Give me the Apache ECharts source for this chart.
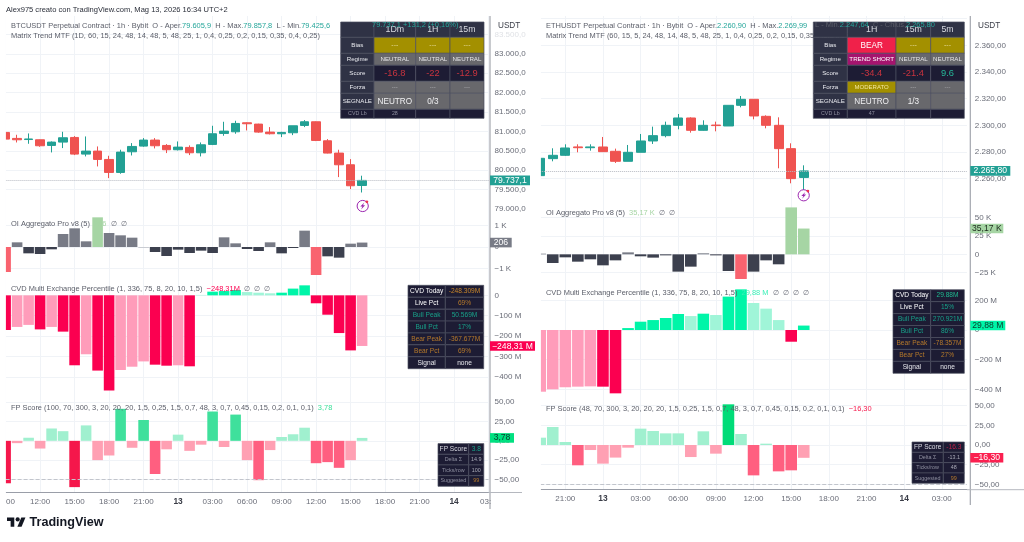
<!DOCTYPE html>
<html><head><meta charset="utf-8">
<style>html,body{margin:0;padding:0;background:#fff}#c{width:1024px;height:542px}</style>
<script src="https://cdn.jsdelivr.net/npm/echarts@6/dist/echarts.min.js"></script>
</head><body><div id="c"></div>
<script>
// ---------- categories / tick labels ----------
const btcHours = ['09:00','10:00','11:00','12:00','13:00','14:00','15:00','16:00','17:00','18:00','19:00','20:00','21:00','22:00','23:00','13','01:00','02:00','03:00','04:00','05:00','06:00','07:00','08:00','09:00b','10:00b','11:00b','12:00b','13:00b','14:00b','15:00b','16:00b','17:00b','18:00b','19:00b','20:00b','21:00b','22:00b','23:00b','14','01:00b','02:00b','03:00b'];
const ethHours = ['19:00','20:00','21:00','22:00','23:00','13','01:00','02:00','03:00','04:00','05:00','06:00','07:00','08:00','09:00','10:00','11:00','12:00','13:00','14:00','15:00','16:00','17:00','18:00','19:00b','20:00b','21:00b','22:00b','23:00b','14','01:00b','02:00b','03:00b','04:00b','05:00b'];
const btcTicks = ['09:00','12:00','15:00','18:00','21:00','13','03:00','06:00','09:00b','12:00b','15:00b','18:00b','21:00b','14','03:00b'];
const ethTicks = ['21:00','13','03:00','06:00','09:00','12:00','15:00','18:00','21:00b','14','03:00b'];

// ---------- candles: open, close, low, high ----------
const btcCandles = [[80973,80801,80801,80990],[80819,80784,80715,80913],[80790,80805,80681,80947],[80784,80630,80604,80790],[80638,80724,80458,80741],[80724,80836,80570,80990],[80844,80415,80389,80879],[80415,80492,80355,80870],[80492,80277,80097,80612],[80277,79942,79796,80372],[79942,80466,79908,80527],[80475,80612,80380,80698],[80621,80776,80604,80827],[80776,80630,80561,80827],[80638,80527,80441,80672],[80527,80595,80509,80741],[80587,80449,80389,80640],[80449,80655,80355,80715],[80664,80939,80647,81145],[80947,81007,80887,81248],[80990,81205,80939,81274],[81222,81197,81025,81231],[81188,80982,80965,81197],[80982,80939,80922,81111],[80939,80973,80853,80990],[80965,81145,80904,81145],[81153,81248,81111,81291],[81248,80767,80750,81257],[80758,80441,80432,80801],[80441,80140,79822,80527],[80140,79599,79513,80286],[79605.9,79737.1,79425.6,79857.8]];
const ethCandles = [[2262.25,2275.25,2262,2276],[2275,2277.5,2273,2282.75],[2277.5,2283,2277,2285.75],[2283.8,2283.2,2279.75,2285.75],[2283.2,2283.8,2281,2285.75],[2283.75,2280.25,2280.25,2291.25],[2280.5,2273,2271.75,2282.5],[2273,2279.75,2273,2285.25],[2279.75,2288.25,2279.75,2293.5],[2288.25,2292.25,2286,2299],[2292.25,2300,2291,2302.75],[2300,2305.5,2297,2308.5],[2305.5,2296.25,2294.5,2306],[2296.25,2300,2296,2303.75],[2300.2,2299.8,2295.5,2302.75],[2299.5,2315,2299.5,2315],[2315,2319.5,2313.5,2322],[2319.5,2307,2304.5,2319.5],[2306.75,2300,2297.75,2307.5],[2300,2282.5,2267.75,2306],[2282.5,2260,2256.5,2286.5],[2260.9,2265.8,2247.64,2269.99]];

// ---------- indicators ----------
const btcOI = [-1163,217,-295,-325,-108,605,868,264,1380,651,543,434,-10,-233,-419,-124,-279,-170,-279,450,170,-93,-186,217,-295,-46,760,-1302,-434,-496,155,206];
const btcOIShade = 'r u n n n u u u g u u u n n n n n n n u u n n u n n u r n n u u'.split(' ');
const btcCVD = [-170,-155,-145,-167,-155,-178,-343,-289,-369,-467,-366,-350,-324,-340,-345,-343,-348,2,18,21,26,16,13,10,13,33,49,-39,-95,-185,-270,-248.31];
const btcCVDShade = 'P p p P p P P p P P p p p P P p P g G G G g g g G G G P P P P p'.split(' ');
const btcFP = [-55,-3,4,-10,16,12.5,-60,20,-25,-19,41.5,-9,27,-43,-11,8,-13,-5,38,-8,34,-25,-51,-12,5,8.5,17,-29,-27.6,-35,-25,3.78];
const btcFPShade = 'R p g p g g R g p p G p G M p g p p G p G p M p g g g M M M p g'.split(' ');
const ethOI = [900,-11800,-4100,-10000,-6800,-15000,-8200,2700,-2700,-4500,-1400,-23600,-16800,1400,-1400,-22700,-33600,-23600,-8200,-13600,64000,35170];
const ethOIShade = 'u n n n n n n u n n n n n u n n r n n n g g'.split(' ');
const ethCVD = [-416,-400,-386,-382,-380,-382,-427,13,56,67,81,108,94,110,101,225,274,182,144,67,-79,29.88];
const ethCVDShade = 'p p p p p P P G G G G G g G g G G g g g P G'.split(' ');
const ethFP = [9.3,22.9,3.8,-25.8,-6.4,-23.7,-16,-3.4,20.8,17.8,14.8,14.8,-15.3,17.4,-11,51.7,14,-38.6,1.7,-33.5,-32.2,-16.3];
const ethFPShade = 'g g g M p p p p g g g g p g p S g M g M M p'.split(' ');

// ---------- tables ----------
const btcMatrix = [['','1Dm','1H','15m'],['Bias','---','---','---'],['Regime','NEUTRAL','NEUTRAL','NEUTRAL'],['Score','-16.8','-22','-12.9'],['Forza','---','---','---'],['SEGNALE','NEUTRO','0/3',''],['CVD Lb','28','','']];
const ethMatrix = [['','1H','15m','5m'],['Bias','BEAR','---','---'],['Regime','TREND SHORT','NEUTRAL','NEUTRAL'],['Score','-34.4','-21.4','9.6'],['Forza','MODERATO','---','---'],['SEGNALE','NEUTRO','1/3',''],['CVD Lb','47','','']];
const cvdRowLabels = ['CVD Today','Live Pct','Bull Peak','Bull Pct','Bear Peak','Bear Pct','Signal'];
const btcCvdValues = ['-248.309M','69%','50.569M','17%','-367.677M','69%','none'];
const ethCvdValues = ['29.88M','15%','270.921M','86%','-78.357M','27%','none'];
const fpRowLabels = ['FP Score','Delta Σ','Ticks/row','Suggested'];
const btcFpValues = ['3.8','14.9','100','99'];
const ethFpValues = ['-16.3','-13.1','48','99'];

// ---------- palette ----------
const FONT = '"Liberation Sans", Arial, sans-serif';
const UP = '#22a094', DOWN = '#ef5350', GRID = '#f0f3f7', LBL = '#6a6d78';
const OI_C = {n:'#3c404e',u:'#787b86',g:'#a6d5a4',r:'#f9636f'};
const CVD_C = {P:'#fb0050',p:'#ff9cba',G:'#00f5a8',g:'#a0f5d8'};
const FP_C = {R:'#f5174b',M:'#ff5f80',p:'#ffa0b3',G:'#3fe09c',g:'#a0f0cf',S:'#00dc78'};

const shaded = (vals, shades, pal) => vals.map((v,i)=>({value:v,itemStyle:{color:pal[shades[i]]}}));
const grp = (n,d) => { const s=Math.abs(n).toFixed(d).split('.'); const a=s[0].replace(/\B(?=(\d{3})+$)/g,'.'); return (n<0?'−':'')+a+(d?','+s[1]:''); };

const GEO = {
  L:{left:5.6,width:483,line:490,off:1.4},
  R:{left:540.2,width:426.7,line:970.3,off:3.4}
};
const grids = [
 {...GEO.L,top:16,height:476.5},{...GEO.L,top:16,height:193},{...GEO.L,top:214.75,height:75.25},{...GEO.L,top:278,height:119.3},{...GEO.L,top:395.3,height:103.4},
 {...GEO.R,top:16,height:473.7},{...GEO.R,top:16,height:189.3},{...GEO.R,top:205.2,height:85.8},{...GEO.R,top:285.5,height:133.5},{...GEO.R,top:397.8,height:106.2}
].map(g=>({left:g.left,width:g.width,top:g.top,height:g.height,containLabel:false}));

const AX = 8;
function mkX(idx,cats,ticks,visible){
  const ok=(i,v)=>ticks.includes(v);
  const skipFirst = cats===btcHours;
  return {type:'category',gridIndex:idx,data:cats,boundaryGap:false,show:visible,
    axisTick:{show:false},
    axisLine:{show:visible,lineStyle:{color:'#9a9ea8',width:1}},
    splitLine:{show:visible,interval:ok,lineStyle:{color:GRID,width:1}},
    axisLabel:{show:visible,color:LBL,fontSize:AX,fontFamily:FONT,margin:5,hideOverlap:false,
      interval:(i,v)=>ok(i,v)&&!(skipFirst&&(i===0||i===42)),
      formatter:v=>{const t=v.replace('b','');return t.length<3?'{d|'+t+'}':t;},
      rich:{d:{fontWeight:700,color:'#3a3d47',fontSize:8.4,fontFamily:FONT}}}};
}
function mkY(idx,min,max,interval,fmt,off,faded){
  return {type:'value',gridIndex:idx,position:'right',offset:off,min,max,interval,scale:true,
    axisLine:{show:false},axisTick:{show:false},
    axisLabel:{color:faded?(v=>Number(v)===faded?'#e0e2e6':LBL):LBL,fontSize:AX,fontFamily:FONT,margin:4.5,formatter:fmt},
    splitLine:{show:true,showMinLine:false,showMaxLine:false,lineStyle:{color:GRID,width:1}}};
}
const base = i=>({type:'value',gridIndex:i,min:0,max:1,show:false,splitLine:{show:false}});
const only = (test,f)=>v=>test(v)?f(v):'';

const xAxes=[mkX(0,btcHours,btcTicks,true)];
for(let i=1;i<5;i++)xAxes.push(mkX(i,btcHours,btcTicks,false));
xAxes.push(mkX(5,ethHours,ethTicks,true));
for(let i=6;i<10;i++)xAxes.push(mkX(i,ethHours,ethTicks,false));

const yAxes=[
 base(0),
 mkY(1,79000,83974,500,only(v=>v%500===0,v=>grp(v,1)),GEO.L.off,83500),
 mkY(2,-2000,1500,1000,only(v=>v%1000===0&&v>-2000,v=>v===0?'0':(v<0?'−':'')+Math.abs(v/1000)+' K'),GEO.L.off),
 mkY(3,-500,85,100,only(v=>v%100===0&&v>-500,v=>v===0?'0':(v<0?'−':'')+Math.abs(v)+' M'),GEO.L.off),
 mkY(4,-75,59,25,only(v=>v%25===0&&v>-75,v=>(v<0?'−':'')+Math.abs(v).toFixed(2).replace('.',',')),GEO.L.off),
 base(5),
 mkY(6,2240,2382,20,only(v=>v%20===0&&v>2240&&v<2380,v=>grp(v,2)),GEO.R.off),
 mkY(7,-50000,67000,25000,only(v=>v%25000===0&&v>-50000,v=>v===0?'0':(v<0?'−':'')+Math.abs(v/1000)+' K'),GEO.R.off),
 mkY(8,-600,300,200,only(v=>v%200===0&&v>-600&&v<300,v=>v===0?'0':(v<0?'−':'')+Math.abs(v)+' M'),GEO.R.off),
 mkY(9,-75,60,25,only(v=>v%25===0&&v>-75,v=>(v<0?'−':'')+Math.abs(v).toFixed(2).replace('.',',')),GEO.R.off)
];

const candle=(idx,data,last,w)=>({type:'candlestick',xAxisIndex:idx,yAxisIndex:idx,data,barWidth:w,
  itemStyle:{color:UP,color0:DOWN,borderColor:UP,borderColor0:DOWN,borderWidth:1},
  markLine:{silent:true,symbol:'none',label:{show:false},lineStyle:{color:'#b7bac2',type:'dotted',width:1},data:[{yAxis:last}]}});
const bars=(idx,data,w,extra)=>Object.assign({type:'bar',xAxisIndex:idx,yAxisIndex:idx,data,barWidth:w},extra||{});
const dash50={markLine:{silent:true,symbol:'none',label:{show:false},lineStyle:{color:'#c2c5cc',type:'dashed',width:1},data:[{yAxis:-50}]}};

const series=[
 candle(1,btcCandles,79737.1,8.8),
 bars(2,shaded(btcOI,btcOIShade,OI_C),10.6),
 bars(3,shaded(btcCVD,btcCVDShade,CVD_C),10.6),
 bars(4,shaded(btcFP,btcFPShade,FP_C),10.6,dash50),
 candle(6,ethCandles,2265.8,9.6),
 bars(7,shaded(ethOI,ethOIShade,OI_C),11.6),
 bars(8,shaded(ethCVD,ethCVDShade,CVD_C),11.6),
 bars(9,shaded(ethFP,ethFPShade,FP_C),11.6,dash50)
];

const chart=echarts.init(document.getElementById('c'),null,{renderer:'canvas'});
chart.setOption({animation:false,backgroundColor:'#fff',grid:grids,xAxis:xAxes,yAxis:yAxes,series});

// ---------- decorations ----------
const G=[];
const Z=50;
function rect(x,y,w,h,fill,stroke,z){G.push({type:'rect',z:z||Z,silent:true,shape:{x,y,width:w,height:h},style:{fill,stroke:stroke||null,lineWidth:stroke?0.7:0}});}
function line(x1,y1,x2,y2,c,w,z){G.push({type:'line',z:z||Z,silent:true,shape:{x1,y1,x2,y2},style:{stroke:c,lineWidth:w||1}});}
function text(x,y,t,fill,size,opt){opt=opt||{};G.push({type:'text',z:opt.z||Z+2,silent:true,x,y,style:{text:t,fill,font:(opt.w||400)+' '+size+'px '+FONT,align:opt.a||'left',textAlign:opt.a||'left',verticalAlign:'middle',textVerticalAlign:'middle'}});}
function rich(x,y,parts,size,z){
  const r={};let s='';
  parts.forEach((p,i)=>{r['k'+i]={fill:p[1],color:p[1],fontSize:size,fontFamily:FONT};s+='{k'+i+'|'+p[0]+'}';});
  G.push({type:'text',z:z||Z+2,silent:true,x,y,style:{text:s,rich:r,font:size+'px '+FONT,verticalAlign:'middle',textVerticalAlign:'middle'}});
}

const T='#26a69a',GT='#5b5e69',TS=7.45;
// white masks: the two charts cut their first bars at the pane edge
rect(0,14,5.9,484,'#fff',null,10);
rect(533.5,14,7.4,480,'#fff',null,10);
// axis lines
line(GEO.L.line,16,GEO.L.line,509,'#a3a6ae',1.2,40);
line(GEO.R.line,16,GEO.R.line,505,'#a3a6ae',1.2,40);
line(488.6,492.5,522,492.5,'#b5b8bf',1,40);
line(966.9,489.7,1024,489.7,'#b5b8bf',1,40);
// clipped tick labels on left chart
text(6,501.4,'00',LBL,AX);
text(480,501.4,'03:',LBL,AX);

// header & legends
text(6,10,'Alex975 creato con TradingView.com, Mag 13, 2026 16:34 UTC+2','#2a2e39',7.55);
rich(11,26,[['BTCUSDT Perpetual Contract · 1h · Bybit  O - Aper.',GT],['79.605,9',T],['  H - Max.',GT],['79.857,8',T],['  L - Min.',GT],['79.425,6',T]],TS,45);
text(11,35.7,'Matrix Trend MTF (1D, 60, 15, 24, 48, 14, 48, 5, 48, 25, 1, 0,4, 0,25, 0,2, 0,15, 0,35, 0,4, 0,25)',GT,TS,{z:45});
rich(11,223.7,[['OI Aggregato Pro v8 (5)  ',GT],['206','#a6d5a4'],['  ∅  ∅','#6a6d78']],TS);
rich(11,289,[['CVD Multi Exchange Percentile (1, 336, 75, 8, 20, 10, 1,5)  ',GT],['−248,31M','#fb0050'],['  ∅  ∅  ∅','#6a6d78']],TS);
rich(11,407.7,[['FP Score (100, 70, 300, 3, 20, 20, 20, 1,5, 0,25, 1,5, 0,7, 48, 3, 0,7, 0,45, 0,15, 0,2, 0,1, 0,1)  ',GT],['3,78','#3fe09c']],TS);
rich(546,26,[['ETHUSDT Perpetual Contract · 1h · Bybit  O - Aper.',GT],['2.260,90',T],['  H - Max.',GT],['2.269,99',T]],TS,45);
text(546,35.7,'Matrix Trend MTF (60, 15, 5, 24, 48, 14, 48, 5, 48, 25, 1, 0,4, 0,25, 0,2, 0,15, 0,35, 0,4, 0,25)',GT,TS,{z:45});
rich(546,213,[['OI Aggregato Pro v8 (5)  ',GT],['35,17 K','#a6d5a4'],['  ∅  ∅','#6a6d78']],TS);
rich(546,293,[['CVD Multi Exchange Percentile (1, 336, 75, 8, 20, 10, 1,5)  ',GT],['29,88 M','#3cf0b8'],['  ∅  ∅  ∅  ∅','#6a6d78']],TS);
rich(546,409.3,[['FP Score (48, 70, 300, 3, 20, 20, 20, 1,5, 0,25, 1,5, 0,7, 48, 3, 0,7, 0,45, 0,15, 0,2, 0,1, 0,1)  ',GT],['−16,30','#f5174b']],TS);
text(498,26,'USDT','#3a3d47',8.2);
text(978,26,'USDT','#3a3d47',8.2);

// matrix tables
const C_HEAD='#2f3245',C_DARK='#1d1c34',C_OLIVE='#a39000',C_GRAY='#68686c',EDGE='#4c4f60';
function matrix(xs,rows){
  const ys=[22,37.3,53.3,65.3,81.3,93.3,109.3,118.3];
  rows.forEach((row,r)=>row.forEach((t,c)=>{
    const x=xs[c],y=ys[r],w=xs[c+1]-x,h=ys[r+1]-y,cx=x+w/2,cy=y+h/2;
    let fill=C_HEAD,col='#e8e9ee',size=6.2;
    if(c>0){
      if(r===0){fill=C_HEAD;size=8.8;col='#d8dae0';}
      if(r===1){fill=C_OLIVE;col='#e6dc9a';size=7;if(t==='BEAR'){fill='#f0214a';col='#fff';size=8.2;}}
      if(r===2){fill=C_GRAY;col='#e4e4e6';size=6.2;if(t==='TREND SHORT'){fill='#a5146e';col='#fff';}}
      if(r===3){fill=C_DARK;size=9.3;col=t.startsWith('-')?'#c9343f':'#26b89a';}
      if(r===4){fill=C_GRAY;size=6;col='#a9a9ad';if(t==='MODERATO'){fill=C_OLIVE;col='#f2e79e';}}
      if(r===5){fill=C_GRAY;size=8.2;col='#f0f0f2';}
      if(r===6){fill=C_DARK;size=5.3;col='#8f90a0';}
    } else if(r===6){fill=C_DARK;size=5.3;col='#8f90a0';}
    rect(x,y,w,h,fill,EDGE);
    if(t)text(cx,cy,t,col,size,{a:'center'});
  }));
}
matrix([340.7,374,415.7,450,484],btcMatrix);
matrix([813.3,847.3,896,930.7,964.3],ethMatrix);
// price text running over the table header
rich(372,25,[['79.737,1 +131,2 (+0,16%)',T]],TS);
rich(815,25,[['L - Min.','#5b5e69'],['2.247,64',T],['  C - Chius.','#5b5e69'],['2.265,80',T]],TS);

function cvdTable(x,xm,x2,y,y2,vals){
  const rh=(y2-y)/7;
  const tint=['#fff','#fff','#18a088','#18a088','#b5792b','#b5792b','#e6e7ec'];
  const isB=vals===btcCvdValues;
  const vtint=[isB?'#c9872a':'#1fb98f',isB?'#b5792b':'#18a088','#18a088','#18a088','#b5792b','#b5792b','#e6e7ec'];
  cvdRowLabels.forEach((t,i)=>{
    rect(x,y+i*rh,xm-x,rh,C_DARK,EDGE);rect(xm,y+i*rh,x2-xm,rh,C_DARK,EDGE);
    text((x+xm)/2,y+(i+.5)*rh,t,tint[i],6.6,{a:'center'});
    text((xm+x2)/2,y+(i+.5)*rh,vals[i],vtint[i],6.6,{a:'center'});
  });
}
cvdTable(408,445.3,483.7,285.3,368.7,btcCvdValues);
cvdTable(893,930.7,964.3,289.7,373.3,ethCvdValues);

function fpTable(x,xm,x2,y,y2,vals,c0){
  const rh=(y2-y)/4;
  fpRowLabels.forEach((t,i)=>{
    rect(x,y+i*rh,xm-x,rh,C_DARK,EDGE);rect(xm,y+i*rh,x2-xm,rh,C_DARK,EDGE);
    text((x+xm)/2,y+(i+.5)*rh,t,i===0?'#d9dae2':'#8f90a0',i===0?6.6:5.4,{a:'center'});
    text((xm+x2)/2,y+(i+.5)*rh,vals[i],i===0?c0:(i===3?'#b5792b':'#a9aab6'),i===0?6.6:5.4,{a:'center'});
  });
}
fpTable(438,468.7,483.8,443.6,486.3,btcFpValues,'#18a088');
fpTable(912,943.3,964.3,442,483.3,ethFpValues,'#c02048');

// purple bolt markers
function bolt(cx,cy){
  G.push({type:'circle',z:Z,silent:true,shape:{cx,cy,r:5.6},style:{fill:'#fff',stroke:'#9c27b0',lineWidth:1}});
  G.push({type:'polygon',z:Z+1,silent:true,shape:{points:[[cx+1.6,cy-3.4],[cx-2.4,cy+0.6],[cx-0.3,cy+0.6],[cx-1.6,cy+3.4],[cx+2.4,cy-0.8],[cx+0.3,cy-0.8]]},style:{fill:'#9c27b0'}});
  G.push({type:'circle',z:Z+1,silent:true,shape:{cx:cx+4.2,cy:cy-4.2,r:1.4},style:{fill:'#ef3350'}});
}
bolt(362.7,206);
bolt(803.7,195.3);

// logo
const lx=p=>7+.52*p, ly=p=>515.3+.52*p;
G.push({type:'polygon',z:Z,silent:true,shape:{points:[[14,22],[7,22],[7,11],[0,11],[0,4],[14,4]].map(p=>[lx(p[0]),ly(p[1])])},style:{fill:'#131722'}});
G.push({type:'polygon',z:Z,silent:true,shape:{points:[[28,22],[20,22],[27.5,4],[35.5,4]].map(p=>[lx(p[0]),ly(p[1])])},style:{fill:'#131722'}});
G.push({type:'circle',z:Z,silent:true,shape:{cx:lx(20.5),cy:ly(8),r:2.1},style:{fill:'#131722'}});
text(29.5,522.5,'TradingView','#131722',12.6,{w:700});

// price tags placed through the axes
const tags=[
 [1,79737.1,'79.737,1',UP,'#fff',490,40],
 [2,206,'206','#787b86','#fff',490,21.7],
 [3,-248.31,'−248,31 M','#fb0050','#fff',490,45],
 [4,3.78,'3,78','#00e080','#0b3b2c',490,24],
 [6,2265.8,'2.265,80',UP,'#fff',970.3,40],
 [7,35170,'35,17 K','#a6d5a4','#1c2b1c',970.3,33],
 [8,29.88,'29,88 M','#00f5a8','#0b3b2c',970.3,35],
 [9,-16.3,'−16,30','#fb2050','#fff',970.3,33]
];
tags.forEach(t=>{
  const y=chart.convertToPixel({yAxisIndex:t[0]},t[1]);
  rect(t[5],y-4.8,t[6],9.6,t[3],null,60);
  text(t[5]+t[6]/2,y+.2,t[2],t[4],8.6,{a:'center',z:61});
});

chart.setOption({graphic:G});
</script></body></html>
